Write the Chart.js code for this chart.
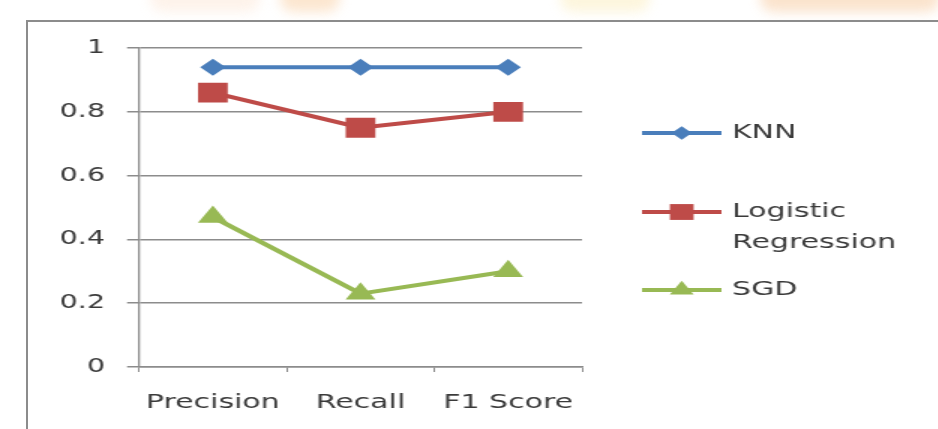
<!DOCTYPE html>
<html>
<head>
<meta charset="utf-8">
<title>KNN vs Logistic Regression vs SGD</title>
<script src="https://cdn.jsdelivr.net/npm/chart.js@4"></script>
<style>
    body {
        margin: 0;
        width: 938px;
        height: 429px;
        overflow: hidden;
        background: #ffffff;
        position: relative;
        font-family: "DejaVu Sans", sans-serif;
    }

    /* faint orange watermark band at the very top */
    .blob {
        position: absolute;
        top: -16px;
        height: 28px;
        border-radius: 16px;
        filter: blur(6px);
        opacity: 0.7;
    }

    .frame {
        position: absolute;
        left: 26px;
        top: 20px;
        width: 930px;
        height: 440px;
        border: 2px solid #8c8c8c;
        box-sizing: border-box;
        background: #ffffff;
    }

    /* the source picture is stretched sideways, so the chart is drawn narrow and widened */
    .stretch {
        position: absolute;
        left: 0;
        top: 0;
        width: 626px;
        height: 429px;
        transform: scaleX(1.5);
        transform-origin: 0 0;
    }
</style>
</head>
<body>
<div class="blob" style="left:150px; width:110px; background:#fdeee2;"></div>
<div class="blob" style="left:280px; width:60px; background:#fbdcbc;"></div>
<div class="blob" style="left:560px; width:90px; background:#fcf2cf;"></div>
<div class="blob" style="left:760px; width:180px; background:#f9d8b8;"></div>
<div class="frame"></div>
<div class="stretch">
    <canvas id="grafico" width="626" height="429"></canvas>
</div>

<script>
// DADOS
const categorias = ['Precision', 'Recall', 'F1 Score'];
const series = ['KNN', 'Logistic Regression', 'SGD'];
const knn = [0.94, 0.94, 0.94];
const logistic = [0.86, 0.75, 0.80];
const sgd = [0.47, 0.23, 0.30];
const yTicks = [0, 0.2, 0.4, 0.6, 0.8, 1];

const cores = ['#4a7ebb', '#be4b48', '#98b954'];
const estilos = ['rectRot', 'rect', 'triangle'];
const raios = [8.5, 14, 11.5];

const corTexto = '#3a3a3a';
const corGrade = '#8c8c8c';

// legenda ao lado, com linha + marcador como no Excel
const legendaLateral = {
    id: 'legendaLateral',
    afterDraw(chart) {
        const ctx = chart.ctx;
        const linhas = [133, 212, 290];
        ctx.save();
        ctx.font = '20px "DejaVu Sans"';
        ctx.textBaseline = 'middle';
        ctx.textAlign = 'left';
        chart.data.datasets.forEach(function (ds, i) {
            const y = linhas[i];
            ctx.strokeStyle = ds.borderColor;
            ctx.lineWidth = 4;
            ctx.beginPath();
            ctx.moveTo(428, y);
            ctx.lineTo(481, y);
            ctx.stroke();

            ctx.fillStyle = ds.borderColor;
            Chart.helpers.drawPoint(ctx, {
                pointStyle: ds.pointStyle,
                radius: ds.pointRadius * 0.8,
                rotation: 0,
                borderWidth: 0
            }, 454.5, y);

            ctx.fillStyle = corTexto;
            const palavras = ds.label.split(' ');
            palavras.forEach(function (p, k) {
                ctx.fillText(p, 488, y + k * 31);
            });
        });
        ctx.restore();
    }
};

const datasets = [knn, logistic, sgd].map(function (valores, i) {
    return {
        label: series[i],
        data: valores,
        borderColor: cores[i],
        backgroundColor: cores[i],
        borderWidth: 4,
        pointStyle: estilos[i],
        pointRadius: raios[i],
        pointHoverRadius: raios[i],
        pointBorderWidth: 0,
        pointBackgroundColor: cores[i],
        tension: 0
    };
});

new Chart(document.getElementById('grafico'), {
    type: 'line',
    data: {
        labels: categorias,
        datasets: datasets
    },
    options: {
        responsive: false,
        devicePixelRatio: 1,
        animation: false,
        layout: {
            padding: { top: 48, right: 238, bottom: 0, left: 0 }
        },
        scales: {
            x: {
                type: 'category',
                offset: true,
                afterFit: function (scale) { scale.height = 62; },
                grid: {
                    offset: true,
                    drawOnChartArea: false,
                    tickLength: 5,
                    color: corGrade,
                    lineWidth: 1
                },
                border: { display: true, color: corGrade, width: 1.5 },
                ticks: {
                    color: corTexto,
                    padding: 19,
                    font: { family: 'DejaVu Sans', size: 20 }
                }
            },
            y: {
                min: 0,
                max: 1,
                afterFit: function (scale) { scale.width = 92.7; },
                afterBuildTicks: function (scale) {
                    scale.ticks = yTicks.map(function (v) { return { value: v }; });
                },
                grid: {
                    color: corGrade,
                    lineWidth: 1.5,
                    tickLength: 8
                },
                border: { display: true, color: corGrade, width: 1.3 },
                ticks: {
                    color: corTexto,
                    padding: 14.7,
                    font: { family: 'DejaVu Sans', size: 19 },
                    callback: function (v) { return String(v); }
                }
            }
        },
        plugins: {
            legend: { display: false },
            tooltip: { enabled: false }
        }
    },
    plugins: [legendaLateral]
});
</script>
</body>
</html>
